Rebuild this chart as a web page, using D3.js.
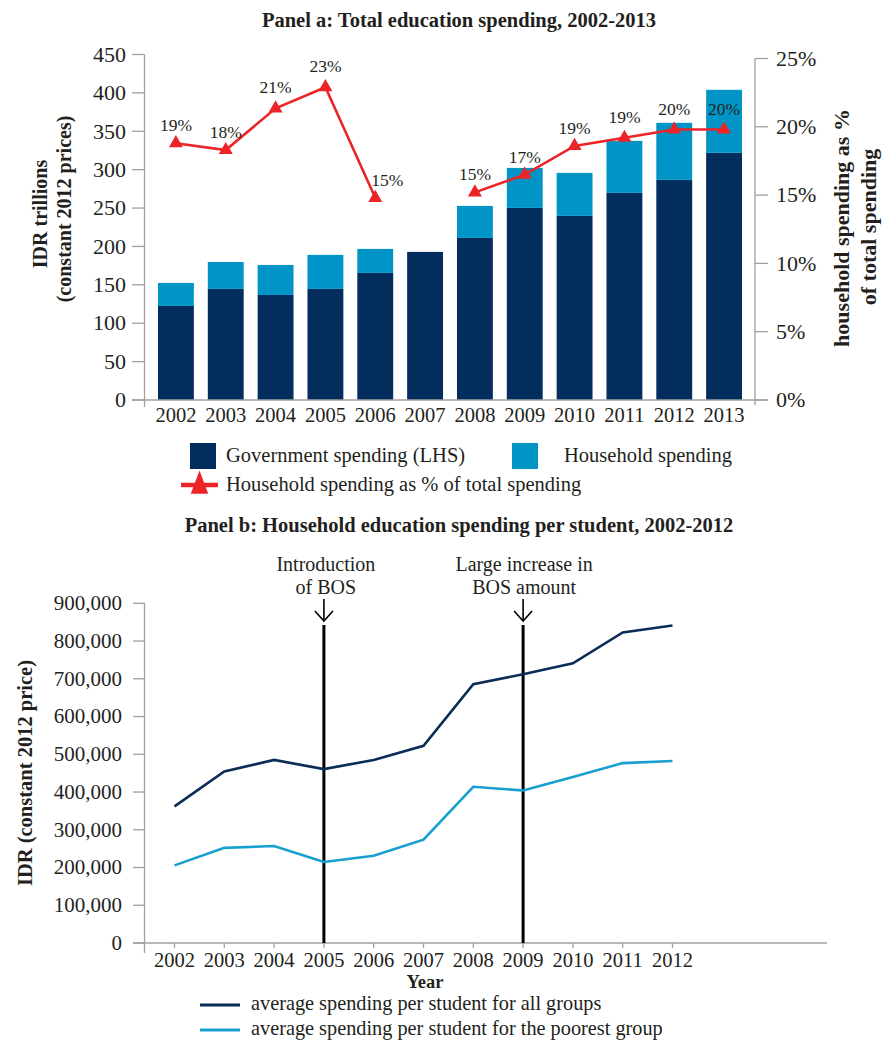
<!DOCTYPE html>
<html><head><meta charset="utf-8">
<script src="https://cdn.jsdelivr.net/npm/d3@7"></script>
<style>
html,body{margin:0;padding:0;background:#fff;}
svg{display:block;font-family:"Liberation Serif","Times New Roman",serif;}
text{fill:#231f20;}
</style></head>
<body>
<svg id="chart" width="882" height="1040"></svg>
<script>
// ---------- DATA ----------
const yearsA = ["2002","2003","2004","2005","2006","2007","2008","2009","2010","2011","2012","2013"];
const govSpending = [122.5,144.7,136.8,144.7,165.5,192.9,211.1,250.2,239.8,269.8,286.7,321.9];
const householdSpending = [30.0,35.1,39.1,44.3,31.3,0,41.7,52.1,56.0,67.7,74.3,82.1];
const householdPct = [18.8,18.3,21.35,22.9,14.8,null,15.2,16.5,18.6,19.2,19.8,19.8];
const leftTicksA = [0,50,100,150,200,250,300,350,400,450];
const rightTicksA = [0,5,10,15,20,25];

const yearsB = ["2002","2003","2004","2005","2006","2007","2008","2009","2010","2011","2012"];
const allGroups = [362000,454500,485000,460700,485000,522500,685800,712000,741000,822600,841000];
const poorestGroup = [205600,252000,256800,214500,231000,273600,414000,404000,440000,476600,482000];
const ticksB = [0,100000,200000,300000,400000,500000,600000,700000,800000,900000];
const events = [{year:"2005", lines:["Introduction","of BOS"]},{year:"2009", lines:["Large increase in","BOS amount"]}];

const C = {gov:"#032d5d", hh:"#0195c7", red:"#ec2427", axis:"#a0a0a0", all:"#0b2c56", poor:"#179fd0"};

const svg = d3.select("#chart");

// ---------- PANEL A ----------
const A = svg.append("g");
A.append("text").attr("x",459).attr("y",27).attr("text-anchor","middle")
  .attr("font-weight","bold").attr("font-size",20.5)
  .text("Panel a: Total education spending, 2002-2013");

const xA = d3.scaleBand().domain(yearsA).range([151,749]).paddingInner(0.28).paddingOuter(0.14);
const yA = d3.scaleLinear().domain([0,450]).range([400,54.5]);
const yP = d3.scaleLinear().domain([0,25]).range([400,58.5]);

// bars
const barData = yearsA.map((y,i)=>({year:y, gov:govSpending[i], hh:householdSpending[i]}));
A.append("g").selectAll("rect.gov").data(barData).join("rect")
  .attr("x",d=>xA(d.year)).attr("width",xA.bandwidth())
  .attr("y",d=>yA(d.gov)).attr("height",d=>yA(0)-yA(d.gov)).attr("fill",C.gov);
A.append("g").selectAll("rect.hh").data(barData.filter(d=>d.hh>0)).join("rect")
  .attr("x",d=>xA(d.year)).attr("width",xA.bandwidth())
  .attr("y",d=>yA(d.gov+d.hh)).attr("height",d=>yA(d.gov)-yA(d.gov+d.hh)).attr("fill",C.hh);

// axes lines
A.append("line").attr("x1",132).attr("x2",768).attr("y1",400).attr("y2",400).attr("stroke",C.axis).attr("stroke-width",1.3);
A.append("line").attr("x1",144.5).attr("x2",144.5).attr("y1",yA(450)).attr("y2",407).attr("stroke",C.axis).attr("stroke-width",1.3);
A.append("line").attr("x1",755).attr("x2",755).attr("y1",yP(25)).attr("y2",405).attr("stroke",C.axis).attr("stroke-width",1.3);

const lt = A.append("g");
lt.selectAll("line").data(leftTicksA).join("line")
  .attr("x1",132).attr("x2",144.5).attr("y1",d=>yA(d)).attr("y2",d=>yA(d)).attr("stroke",C.axis).attr("stroke-width",1.3);
lt.selectAll("text").data(leftTicksA).join("text")
  .attr("x",126).attr("y",d=>yA(d)).attr("dy","0.33em").attr("text-anchor","end").attr("font-size",22)
  .text(d=>d);
const rt = A.append("g");
rt.selectAll("line").data(rightTicksA).join("line")
  .attr("x1",755).attr("x2",768).attr("y1",d=>yP(d)).attr("y2",d=>yP(d)).attr("stroke",C.axis).attr("stroke-width",1.3);
rt.selectAll("text").data(rightTicksA).join("text")
  .attr("x",776).attr("y",d=>yP(d)).attr("dy","0.33em").attr("font-size",22)
  .text(d=>d+"%");
A.append("g").selectAll("text").data(yearsA).join("text")
  .attr("x",d=>xA(d)+xA.bandwidth()/2).attr("y",422).attr("text-anchor","middle").attr("font-size",20.5)
  .text(d=>d);

// axis titles
A.append("text").attr("transform","translate(47,214) rotate(-90)").attr("text-anchor","middle")
  .attr("font-weight","bold").attr("font-size",20).text("IDR trillions");
A.append("text").attr("transform","translate(71,209) rotate(-90)").attr("text-anchor","middle")
  .attr("font-weight","bold").attr("font-size",20).text("(constant 2012 prices)");
A.append("text").attr("transform","translate(849,228) rotate(-90)").attr("text-anchor","middle")
  .attr("font-weight","bold").attr("font-size",22).text("household spending as %");
A.append("text").attr("transform","translate(876,227) rotate(-90)").attr("text-anchor","middle")
  .attr("font-weight","bold").attr("font-size",22).text("of total spending");

// percentage line
const pctData = yearsA.map((y,i)=>({year:y, v:householdPct[i]}));
const cx = d=>xA(d.year)+xA.bandwidth()/2;
A.append("path").datum(pctData)
  .attr("d", d3.line().defined(d=>d.v!==null).x(cx).y(d=>yP(d.v)))
  .attr("fill","none").attr("stroke",C.red).attr("stroke-width",2.6);
const tri = d3.symbol().type(d3.symbolTriangle).size(85);
A.append("g").selectAll("path").data(pctData.filter(d=>d.v!==null)).join("path")
  .attr("d",tri).attr("transform",d=>`translate(${cx(d)},${yP(d.v)})`).attr("fill",C.red);
A.append("g").selectAll("text").data(pctData.filter(d=>d.v!==null)).join("text")
  .attr("x",d=>cx(d)+(d.year==="2006"?12:0)).attr("y",d=>yP(d.v)-(d.v>19?15:12))
  .attr("text-anchor","middle").attr("font-size",17.5)
  .text(d=>Math.round(d.v)+"%");

// legend A
const LA = A.append("g");
LA.append("rect").attr("x",190).attr("y",443).attr("width",26).attr("height",26).attr("fill",C.gov);
LA.append("text").attr("x",226).attr("y",462).attr("font-size",20.5).text("Government spending (LHS)");
LA.append("rect").attr("x",512).attr("y",443).attr("width",26).attr("height",26).attr("fill",C.hh);
LA.append("text").attr("x",564).attr("y",462).attr("font-size",20.5).text("Household spending");
LA.append("line").attr("x1",181).attr("x2",218).attr("y1",485).attr("y2",485).attr("stroke",C.red).attr("stroke-width",4.5);
LA.append("path").attr("d",d3.symbol().type(d3.symbolTriangle).size(120)())
  .attr("transform","translate(199.5,486) scale(1.05,1.6)").attr("fill",C.red);
LA.append("text").attr("x",226).attr("y",491).attr("font-size",20.5).text("Household spending as % of total spending");

// ---------- PANEL B ----------
const B = svg.append("g");
B.append("text").attr("x",459).attr("y",532).attr("text-anchor","middle")
  .attr("font-weight","bold").attr("font-size",20.5)
  .text("Panel b: Household education spending per student, 2002-2012");

const xB = d3.scalePoint().domain(yearsB).range([174.5,672.5]);
const yB = d3.scaleLinear().domain([0,900000]).range([943,603.3]);

B.append("line").attr("x1",133).attr("x2",827).attr("y1",943).attr("y2",943).attr("stroke",C.axis).attr("stroke-width",1.3);
B.append("line").attr("x1",144.5).attr("x2",144.5).attr("y1",yB(900000)).attr("y2",953).attr("stroke",C.axis).attr("stroke-width",1.3);
const fmt = d3.format(",");
const ytB = B.append("g");
ytB.selectAll("line").data(ticksB).join("line")
  .attr("x1",133).attr("x2",144.5).attr("y1",d=>yB(d)).attr("y2",d=>yB(d)).attr("stroke",C.axis).attr("stroke-width",1.3);
ytB.selectAll("text").data(ticksB).join("text")
  .attr("x",122).attr("y",d=>yB(d)).attr("dy","0.33em").attr("text-anchor","end").attr("font-size",21)
  .text(d=>fmt(d));
const xtB = B.append("g");
xtB.selectAll("line").data(yearsB).join("line")
  .attr("x1",d=>xB(d)).attr("x2",d=>xB(d)).attr("y1",943).attr("y2",948).attr("stroke",C.axis).attr("stroke-width",1.3);
xtB.selectAll("text").data(yearsB).join("text")
  .attr("x",d=>xB(d)).attr("y",967).attr("text-anchor","middle").attr("font-size",20.5).text(d=>d);

B.append("text").attr("x",425).attr("y",988).attr("text-anchor","middle").attr("font-weight","bold").attr("font-size",18.5).text("Year");
B.append("text").attr("transform","translate(32,773) rotate(-90)").attr("text-anchor","middle")
  .attr("font-weight","bold").attr("font-size",20.5).text("IDR (constant 2012 price)");

// event lines
events.forEach(ev=>{
  const x = xB(ev.year);
  B.append("line").attr("x1",x).attr("x2",x).attr("y1",625).attr("y2",943).attr("stroke","#000").attr("stroke-width",3);
  B.append("line").attr("x1",x).attr("x2",x).attr("y1",599).attr("y2",621).attr("stroke","#000").attr("stroke-width",1.6);
  B.append("path").attr("d",`M${x-9},${611}L${x},${621}L${x+9},${611}`).attr("fill","none").attr("stroke","#000").attr("stroke-width",1.6);
  ev.lines.forEach((t,i)=>{
    B.append("text").attr("x",x+(ev.year==="2005"?2:1)).attr("y",571+i*23).attr("text-anchor","middle").attr("font-size",20).text(t);
  });
});

// lines
const lineB = d3.line().x(d=>xB(d.year)).y(d=>yB(d.v));
B.append("path").datum(yearsB.map((y,i)=>({year:y,v:allGroups[i]})))
  .attr("d",lineB).attr("fill","none").attr("stroke",C.all).attr("stroke-width",2.6);
B.append("path").datum(yearsB.map((y,i)=>({year:y,v:poorestGroup[i]})))
  .attr("d",lineB).attr("fill","none").attr("stroke",C.poor).attr("stroke-width",2.6);

// legend B
B.append("line").attr("x1",200).attr("x2",240).attr("y1",1005).attr("y2",1005).attr("stroke",C.all).attr("stroke-width",3);
B.append("text").attr("x",251).attr("y",1010).attr("font-size",20.3).text("average spending per student for all groups");
B.append("line").attr("x1",200).attr("x2",240).attr("y1",1030).attr("y2",1030).attr("stroke",C.poor).attr("stroke-width",3);
B.append("text").attr("x",251).attr("y",1035).attr("font-size",20.3).text("average spending per student for the poorest group");
</script>
</body></html>
